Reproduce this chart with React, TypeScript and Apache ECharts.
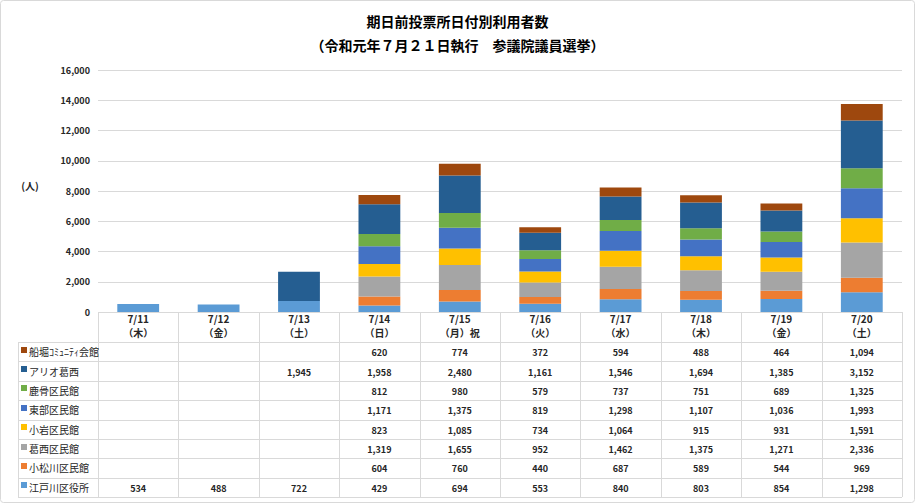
import React, { useEffect, useRef } from 'react';
import * as echarts from 'echarts';

const categories = ['7/11', '7/12', '7/13', '7/14', '7/15', '7/16', '7/17', '7/18', '7/19', '7/20'];
const weekdays = ['（木）', '（金）', '（土）', '（日）', '（月）祝', '（火）', '（水）', '（木）', '（金）', '（土）'];

// stacking order, bottom to top
const seriesNames = ['江戸川区役所', '小松川区民館', '葛西区民館', '小岩区民館', '東部区民館', '鹿骨区民館', 'アリオ葛西', '船堀ｺﾐｭﾆﾃｨ会館'];
const seriesColors = ['#5B9BD5', '#ED7D31', '#A5A5A5', '#FFC000', '#4472C4', '#70AD47', '#255E91', '#9E480E'];

const edogawa = [534, 488, 722, 429, 694, 553, 840, 803, 854, 1298];
const komatsugawa = [null, null, null, 604, 760, 440, 687, 589, 544, 969];
const kasai = [null, null, null, 1319, 1655, 952, 1462, 1375, 1271, 2336];
const koiwa = [null, null, null, 823, 1085, 734, 1064, 915, 931, 1591];
const tobu = [null, null, null, 1171, 1375, 819, 1298, 1107, 1036, 1993];
const shishibone = [null, null, null, 812, 980, 579, 737, 751, 689, 1325];
const ario = [null, null, 1945, 1958, 2480, 1161, 1546, 1694, 1385, 3152];
const funabori = [null, null, null, 620, 774, 372, 594, 488, 464, 1094];

const seriesValues = [edogawa, komatsugawa, kasai, koiwa, tobu, shishibone, ario, funabori];

const yMax = 16000;
const yInterval = 2000;

const titleLine1 = '期日前投票所日付別利用者数';
const titleLine2 = '（令和元年７月２１日執行　参議院議員選挙）';
const yUnit = '(人)';

const W = 915;
const H = 503;
const gridLeft = 98;
const gridRight = 902;
const gridTop = 70;
const gridBottom = 312;
const tableLeft = 18;
const headerBottom = 342;
const tableBottom = 497;

const CJK = '"Noto Sans CJK JP", "Noto Sans", sans-serif';

function fmt(v: number | null): string {
  if (v === null || v === undefined) return '';
  return String(v).replace(/\B(?=(\d{3})+(?!\d))/g, ',');
}

function buildTable(): any[] {
  const els: any[] = [];
  const lineStyle = { stroke: '#D9D9D9', lineWidth: 1 };
  const n = categories.length;
  const colW = (gridRight - gridLeft) / n;
  const rows = seriesNames.length;
  const rowH = (tableBottom - headerBottom) / rows;
  els.push({ type: 'line', silent: true, shape: { x1: gridLeft, y1: gridBottom + 0.5, x2: gridRight, y2: gridBottom + 0.5 }, style: lineStyle });
  for (let r = 0; r <= rows; r++) {
    const y = Math.round(headerBottom + r * rowH) + 0.5;
    els.push({ type: 'line', silent: true, shape: { x1: tableLeft, y1: y, x2: gridRight, y2: y }, style: lineStyle });
  }
  for (let c = 0; c <= n; c++) {
    const x = Math.round(gridLeft + c * colW) + 0.5;
    els.push({ type: 'line', silent: true, shape: { x1: x, y1: gridBottom, x2: x, y2: tableBottom }, style: lineStyle });
  }
  els.push({ type: 'line', silent: true, shape: { x1: tableLeft + 0.5, y1: headerBottom, x2: tableLeft + 0.5, y2: tableBottom }, style: lineStyle });

  for (let r = 0; r < rows; r++) {
    const si = rows - 1 - r;
    const cy = headerBottom + r * rowH + rowH / 2;
    els.push({
      type: 'rect', silent: true,
      shape: { x: 21, y: Math.round(cy - 5), width: 6, height: 6 },
      style: { fill: seriesColors[si] },
    });
    els.push({
      type: 'text', silent: true,
      style: {
        x: 29, y: cy, text: seriesNames[si], fill: '#262626',
        font: `10px ${CJK}`, textAlign: 'left', textVerticalAlign: 'middle', align: 'left', verticalAlign: 'middle',
      },
    });
    const vals = seriesValues[si];
    for (let c = 0; c < n; c++) {
      const t = fmt(vals[c] as number | null);
      if (!t) continue;
      els.push({
        type: 'text', silent: true,
        style: {
          x: gridLeft + c * colW + colW / 2, y: cy + 1, text: t, fill: '#262626',
          font: `bold 9px ${CJK}`, textAlign: 'center', textVerticalAlign: 'middle', align: 'center', verticalAlign: 'middle',
        },
      });
    }
  }

  els.push({
    type: 'text', silent: true,
    style: {
      x: 30, y: 185, text: yUnit, fill: '#262626',
      font: `bold 10px ${CJK}`, textAlign: 'center', textVerticalAlign: 'middle', align: 'center', verticalAlign: 'middle',
    },
  });
  els.push({
    type: 'rect', silent: true,
    shape: { x: 0.5, y: 0.5, width: W - 1, height: H - 1, r: 3 },
    style: { fill: 'none', stroke: '#D9D9D9', lineWidth: 1 },
  });
  return els;
}

export default function App() {
  const ref = useRef<HTMLDivElement>(null);
  useEffect(() => {
    if (!ref.current) return;
    const chart = echarts.init(ref.current, null, { renderer: 'svg' });
    chart.setOption({
      animation: false,
      backgroundColor: '#FFFFFF',
      title: {
        text: titleLine1 + '\n' + titleLine2,
        left: 'center',
        top: 4,
        textStyle: { fontFamily: CJK, fontSize: 14, fontWeight: 'bold', color: '#000000', lineHeight: 24 },
      },
      grid: { left: gridLeft, right: W - gridRight, top: gridTop, bottom: H - gridBottom, containLabel: false },
      xAxis: {
        type: 'category',
        data: categories,
        axisLine: { show: false },
        axisTick: { show: false },
        axisLabel: {
          interval: 0,
          margin: -1,
          fontFamily: CJK,
          fontSize: 10,
          fontWeight: 'bold',
          color: '#262626',
          lineHeight: 14,
          formatter: (v: string, i: number) => v + '\n' + weekdays[i],
        },
      },
      yAxis: {
        type: 'value',
        min: 0,
        max: yMax,
        interval: yInterval,
        axisLine: { show: false },
        axisTick: { show: false },
        splitLine: { lineStyle: { color: '#D9D9D9', width: 1 } },
        axisLabel: {
          margin: 8,
          fontFamily: CJK,
          fontSize: 9,
          fontWeight: 'bold',
          color: '#262626',
          formatter: (v: number) => fmt(v),
        },
      },
      series: seriesNames.map((name, i) => ({
        name,
        type: 'bar',
        stack: 'total',
        barWidth: '52%',
        data: seriesValues[i],
        itemStyle: { color: seriesColors[i] },
      })),
      graphic: buildTable(),
    });
    return () => chart.dispose();
  }, []);
  return <div ref={ref} style={{ position: 'fixed', left: 0, top: 0, width: W, height: H }} />;
}
